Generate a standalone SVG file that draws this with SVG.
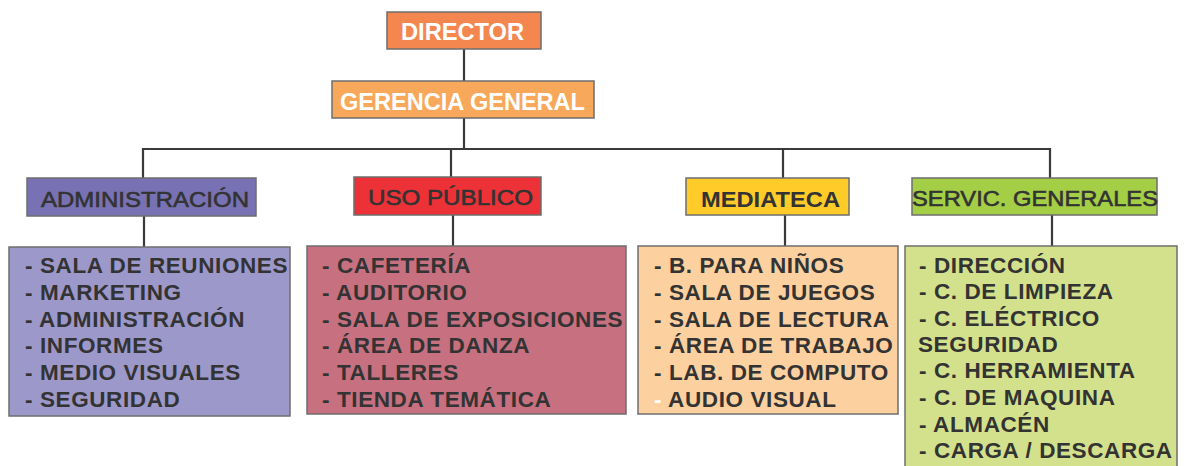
<svg xmlns="http://www.w3.org/2000/svg" width="1185" height="466" viewBox="0 0 1185 466">
<style>
.box{stroke:#6e6e6e;stroke-width:1.5}
.top{font-family:"Liberation Sans",Arial,sans-serif;font-weight:bold;fill:#ffffff;font-size:23.5px}
.hdr{font-family:"Liberation Sans",Arial,sans-serif;fill:#333333;stroke:#333333;stroke-width:0.6px;font-size:22.5px}
.hdrb{font-family:"Liberation Sans",Arial,sans-serif;fill:#333333;font-size:22.5px;font-weight:bold}
.lst{font-family:"Liberation Sans",Arial,sans-serif;fill:#333333;font-size:22.5px;font-weight:bold;letter-spacing:0.6px}
.conn{stroke:#3a3a3a;stroke-width:2.2;fill:none}
</style>
<rect width="1185" height="466" fill="#ffffff"/>
<g id="connectors">
<path class="conn" d="M464 49V81M464 118V149M143 178V149H1050V178"/>
<path class="conn" d="M451 149V177M783 149V178"/>
<path class="conn" d="M144 216V247M453 215V246M785 215V246M1052 215V246"/>
</g>
<g id="director">
<rect class="box" x="387" y="12" width="154" height="37" fill="#F4874F"/>
<text class="top" x="401" y="40" textLength="123" lengthAdjust="spacingAndGlyphs">DIRECTOR</text>
</g>
<g id="gerencia">
<rect class="box" x="332" y="81" width="262" height="37" fill="#F8A85A"/>
<text class="top" x="340" y="110" textLength="245" lengthAdjust="spacingAndGlyphs">GERENCIA GENERAL</text>
</g>
<g id="administracion">
<rect class="box" x="27" y="178" width="229" height="38" fill="#7872B4"/>
<text class="hdr" x="41" y="207" textLength="208" lengthAdjust="spacingAndGlyphs">ADMINISTRACIÓN</text>
</g>
<g id="uso-publico">
<rect class="box" x="354" y="177" width="187" height="38" fill="#EC3237"/>
<text class="hdr" x="368" y="205" textLength="165" lengthAdjust="spacingAndGlyphs">USO PÚBLICO</text>
</g>
<g id="mediateca">
<rect class="box" x="686" y="178" width="163" height="37" fill="#FFCB29"/>
<text class="hdrb" x="701" y="207" textLength="139" lengthAdjust="spacingAndGlyphs">MEDIATECA</text>
</g>
<g id="servic-generales">
<rect class="box" x="912" y="178" width="245" height="37" fill="#A4CE45"/>
<text class="hdr" x="912" y="206" textLength="246" lengthAdjust="spacingAndGlyphs">SERVIC. GENERALES</text>
</g>
<g id="lista-administracion">
<rect class="box" x="9" y="247" width="281" height="169" fill="#9D98CA"/>
<text class="lst" x="25" y="273">- SALA DE REUNIONES</text>
<text class="lst" x="25" y="300">- MARKETING</text>
<text class="lst" x="25" y="327">- ADMINISTRACIÓN</text>
<text class="lst" x="25" y="353">- INFORMES</text>
<text class="lst" x="25" y="380">- MEDIO VISUALES</text>
<text class="lst" x="25" y="407">- SEGURIDAD</text>
</g>
<g id="lista-uso-publico">
<rect class="box" x="307" y="246" width="319" height="168" fill="#C77080"/>
<text class="lst" x="322" y="273">- CAFETERÍA</text>
<text class="lst" x="322" y="300">- AUDITORIO</text>
<text class="lst" x="322" y="327">- SALA DE EXPOSICIONES</text>
<text class="lst" x="322" y="353">- ÁREA DE DANZA</text>
<text class="lst" x="322" y="380">- TALLERES</text>
<text class="lst" x="322" y="407">- TIENDA TEMÁTICA</text>
</g>
<g id="lista-mediateca">
<rect class="box" x="638" y="246" width="260" height="168" fill="#FCD09F"/>
<text class="lst" x="654" y="273">- B. PARA NIÑOS</text>
<text class="lst" x="654" y="300">- SALA DE JUEGOS</text>
<text class="lst" x="654" y="327">- SALA DE LECTURA</text>
<text class="lst" x="654" y="353">- ÁREA DE TRABAJO</text>
<text class="lst" x="654" y="380">- LAB. DE COMPUTO</text>
<text class="lst" x="654" y="407"><tspan fill="#ffffff">-</tspan> AUDIO VISUAL</text>
</g>
<g id="lista-servic-generales">
<rect class="box" x="905" y="246" width="272" height="230" fill="#D4E18C"/>
<text class="lst" x="919" y="273">- DIRECCIÓN</text>
<text class="lst" x="919" y="299">- C. DE LIMPIEZA</text>
<text class="lst" x="919" y="326">- C. ELÉCTRICO</text>
<text class="lst" x="918" y="352">SEGURIDAD</text>
<text class="lst" x="919" y="378">- C. HERRAMIENTA</text>
<text class="lst" x="919" y="405">- C. DE MAQUINA</text>
<text class="lst" x="919" y="432">- ALMACÉN</text>
<text class="lst" x="919" y="458">- CARGA / DESCARGA</text>
</g>
</svg>
